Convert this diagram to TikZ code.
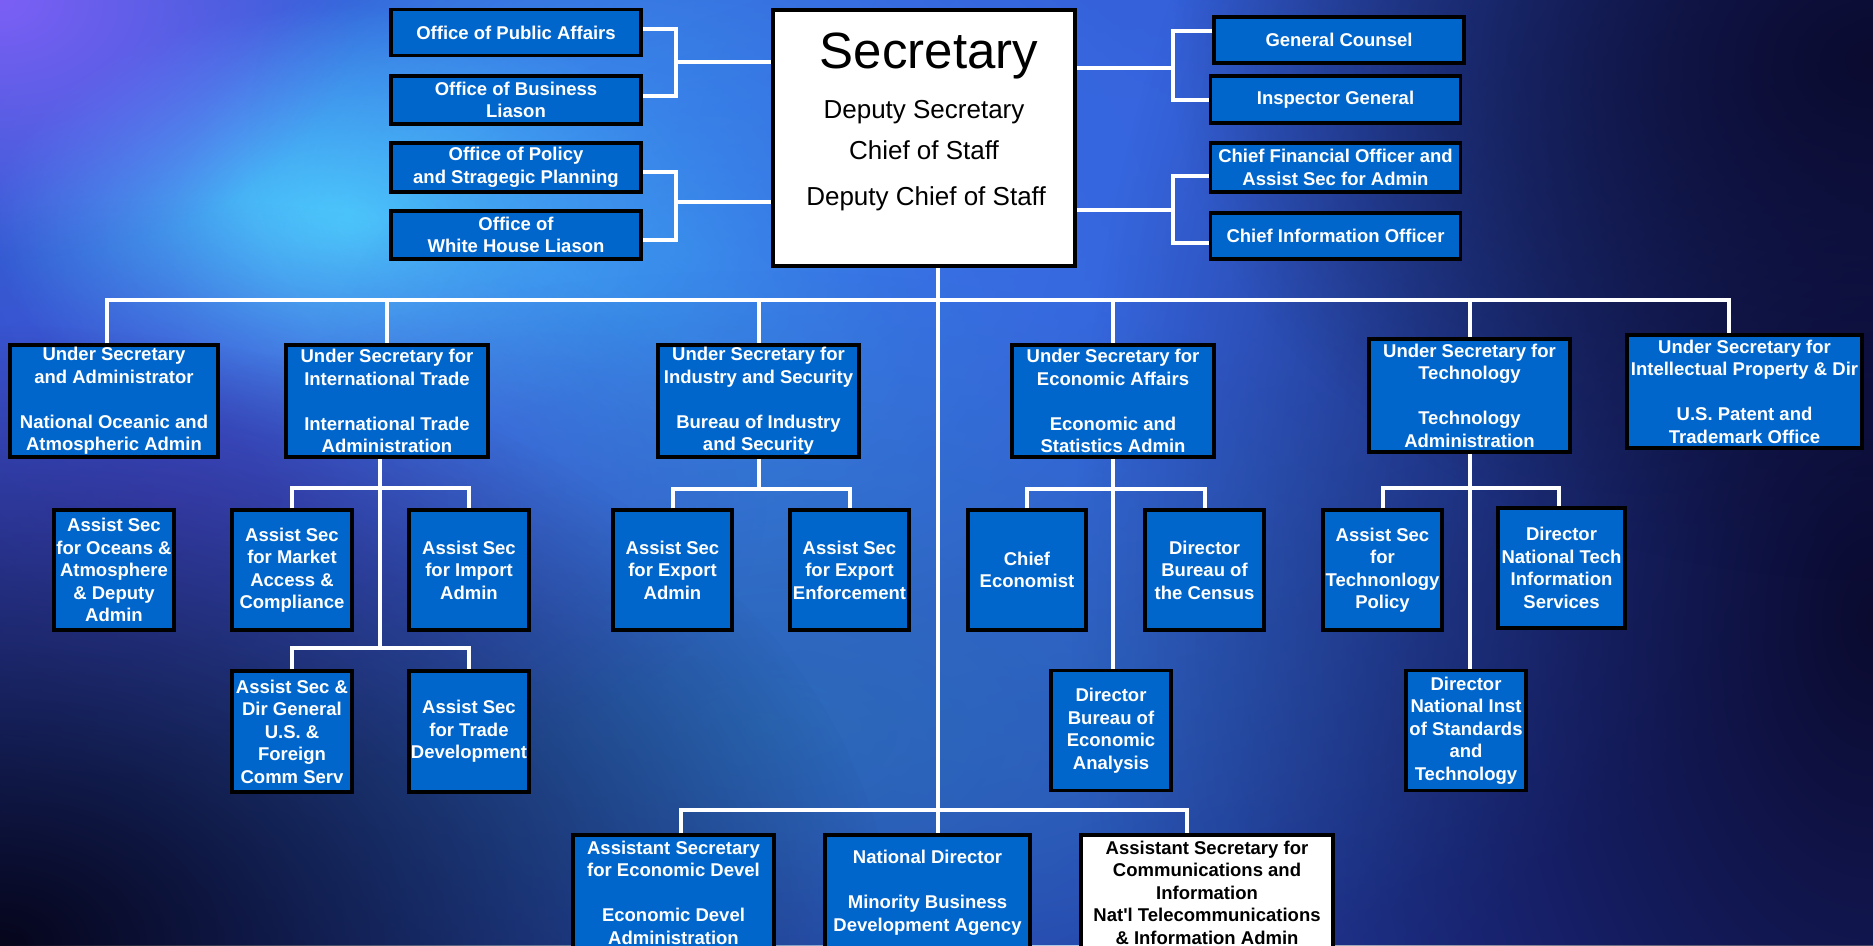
\documentclass[tikz,border=0pt]{standalone}
\usepackage{fontspec}
\setmainfont{Liberation Sans}
\usetikzlibrary{fadings}

\definecolor{orgblue}{HTML}{0066CC}
\definecolor{bgbase}{HTML}{2438A8}
\definecolor{glowblue}{HTML}{3D74EE}
\definecolor{glowcyan}{HTML}{3EC0FB}
\definecolor{hotcyan}{HTML}{4FD2FF}
\definecolor{glowviolet}{HTML}{7C60F6}
\definecolor{glowmid}{HTML}{3766E0}
\definecolor{glowteal}{HTML}{2B6FB5}
\definecolor{shadepurple}{HTML}{4A44D0}
\definecolor{nightnavy}{HTML}{06061C}
\definecolor{edgenavy}{HTML}{0B0B30}

% soft round glow, opaque in the middle
\tikzfading[name=glow, inner color=transparent!0, outer color=transparent!100]

\begin{document}
\begin{tikzpicture}[
    x=1pt, y=-1pt, % one unit per pixel, y runs downwards
    orgbox/.style={
        draw=black, % black frame round every box
        line width=3.5pt,
        fill=orgblue, % office blue
        text=white,
        align=center, % centre the lines of text
        inner sep=1pt,
        font=\bfseries\fontsize{18.5}{22.5}\selectfont
    },
    staffbox/.style={orgbox, minimum width=250pt, minimum height=47pt}, % staff offices beside the Secretary
    headbox/.style={orgbox, minimum width=202pt, minimum height=112pt}, % under secretaries
    subbox/.style={orgbox, minimum width=119pt, minimum height=120pt}, % assistant secretaries, directors
    lowbox/.style={orgbox, minimum height=115pt}, % bottom row
    secline/.style={anchor=base, text=black, font=\fontsize{26}{30}\selectfont},
    link/.style={draw=white, line width=4pt} % white connecting lines
]

\useasboundingbox (0,0) rectangle (1873,945);
\clip (0,0) rectangle (1873,945);

% backdrop: blue with soft glows, darker towards the corners
\fill[bgbase] (0,0) rectangle (1873,945);
\fill[glowblue, path fading=glow] (550,230) ellipse [x radius=1400pt, y radius=840pt];
\fill[glowcyan, path fading=glow] (690,250) ellipse [x radius=520pt, y radius=400pt];
\fill[hotcyan, path fading=glow] (350,225) ellipse [x radius=360pt, y radius=220pt];
\fill[glowviolet, path fading=glow] (0,0) ellipse [x radius=360pt, y radius=260pt];
\fill[glowmid, path fading=glow] (1150,130) ellipse [x radius=900pt, y radius=500pt];
\fill[glowmid, path fading=glow, fill opacity=.7] (1100,450) ellipse [x radius=800pt, y radius=500pt];
\fill[glowteal, path fading=glow, fill opacity=.8] (760,730) ellipse [x radius=840pt, y radius=460pt];
\fill[shadepurple, path fading=glow, fill opacity=.7] (170,500) ellipse [x radius=600pt, y radius=300pt];
\fill[nightnavy, path fading=glow] (0,945) ellipse [x radius=900pt, y radius=620pt];
\fill[edgenavy, path fading=glow] (1873,620) ellipse [x radius=800pt, y radius=1300pt];
\fill[edgenavy, path fading=glow] (1873,60) ellipse [x radius=700pt, y radius=520pt];

% Secretary
\node[draw=black, line width=3.5pt, fill=white, minimum width=302pt, minimum height=256pt] (sec) at (924,138) {};
\node[secline, font=\fontsize{51}{60}\selectfont] (sectitle) at (929,68) {Secretary};
\node[secline] (secdeputy) at (924,118) {Deputy Secretary};
\node[secline] (secchief) at (924,159) {Chief of Staff};
\node[secline] (secdcos) at (926,205) {Deputy Chief of Staff};

% staff offices
\node[staffbox, minimum height=46pt] (opa) at (516,32.5) {Office of Public Affairs};
\node[staffbox, minimum height=48pt] (obl) at (516,100) {Office of Business\\Liason};
\node[staffbox, minimum height=49pt] (opsp) at (516,167.5) {Office of Policy\\and Stragegic Planning};
\node[staffbox, minimum height=48pt] (owhl) at (516,235) {Office of\\White House Liason};
\node[staffbox, minimum height=46pt] (gc) at (1339,40) {General Counsel};
\node[staffbox] (ig) at (1335.5,99.5) {Inspector General};
\node[staffbox, minimum height=49pt] (cfo) at (1335.5,167.5) {Chief Financial Officer and\\Assist Sec for Admin};
\node[staffbox, minimum height=46pt] (cio) at (1335.5,236) {Chief Information Officer};

% under secretaries
\node[headbox, minimum width=208pt] (noaa) at (114,401) {Under Secretary\\and Administrator\\[22.5pt]National Oceanic and\\Atmospheric Admin};
\node[headbox] (ita) at (387,401) {Under Secretary for\\International Trade\\[22.5pt]International Trade\\Administration};
\node[headbox, minimum width=201pt] (bis) at (758.5,401) {Under Secretary for\\Industry and Security\\[22.5pt]Bureau of Industry\\and Security};
\node[headbox] (esa) at (1113,401) {Under Secretary for\\Economic Affairs\\[22.5pt]Economic and\\Statistics Admin};
\node[headbox, minimum width=201pt, minimum height=113pt] (tech) at (1469.5,395.5) {Under Secretary for\\Technology\\[22.5pt]Technology\\Administration};
\node[headbox, minimum width=235pt, minimum height=113pt] (ipo) at (1744.5,391.5) {Under Secretary for\\Intellectual Property \& Dir\\[22.5pt]U.S. Patent and\\Trademark Office};

% assistant secretaries and directors
\node[subbox, minimum width=120pt] (ocean) at (114,570) {Assist Sec\\for Oceans \&\\Atmosphere\\\& Deputy\\Admin};
\node[subbox, minimum width=120pt] (mkt) at (292,570) {Assist Sec\\for Market\\Access \&\\Compliance};
\node[subbox, minimum width=120pt] (imp) at (469,570) {Assist Sec\\for Import\\Admin};
\node[subbox] (expa) at (672.5,570) {Assist Sec\\for Export\\Admin};
\node[subbox] (expe) at (849.5,570) {Assist Sec\\for Export\\Enforcement};
\node[subbox, minimum width=118pt] (ceco) at (1027,570) {Chief\\Economist};
\node[subbox] (census) at (1204.5,570) {Director\\Bureau of\\the Census};
\node[subbox] (tpol) at (1382.5,570) {Assist Sec\\for\\Technonlogy\\Policy};
\node[subbox, minimum width=127pt] (ntis) at (1561.5,568) {Director\\National Tech\\Information\\Services};
\node[subbox, minimum width=120pt, minimum height=121pt] (dirgen) at (292,731.5) {Assist Sec \&\\Dir General\\U.S. \&\\Foreign\\Comm Serv};
\node[subbox, minimum width=120pt, minimum height=121pt] (tdev) at (469,731.5) {Assist Sec\\for Trade\\Development};
\node[subbox, minimum width=120pt] (bea) at (1111,730.5) {Director\\Bureau of\\Economic\\Analysis};
\node[subbox, minimum width=120pt] (nist) at (1466,730.5) {Director\\National Inst\\of Standards\\and\\Technology};

% bottom row
\node[lowbox, minimum width=201pt] (edd) at (673.5,892.5) {Assistant Secretary\\for Economic Devel\\[22.5pt]Economic Devel\\Administration};
\node[lowbox, minimum width=205pt] (mbda) at (927.5,892.5) {National Director\\[22.5pt]Minority Business\\Development Agency};
\node[lowbox, minimum width=252pt, fill=white, text=black] (ntia) at (1207,892.5) {Assistant Secretary for\\Communications and\\Information\\Nat\textquotesingle l Telecommunications\\\& Information Admin};

% junctions of the lines
\coordinate (jL1) at (676,62);
\coordinate (jL2) at (676,202);
\coordinate (jR1) at (1173,68);
\coordinate (jR2) at (1173,210);
\coordinate (mainbus) at (0,300);
\coordinate (itabus1) at (0,488);
\coordinate (itabus2) at (0,648);
\coordinate (unitbus) at (0,489);
\coordinate (lowbus) at (0,810);
\coordinate (trunk) at ([xshift=14pt]sec.south);
\coordinate (busL) at ([xshift=-7pt]noaa.north);
\coordinate (busR) at ([xshift=-16pt]ipo.north);
\coordinate (itatrunk) at ([xshift=-7pt]ita.south);
\coordinate (eddtop) at ([xshift=7pt]edd.north);
\coordinate (ntiatop) at ([xshift=-20pt]ntia.north);

% staff brackets
\draw[link] ([yshift=4pt]opa.east) -| (jL1) |- ([yshift=4pt]obl.east);
\draw[link] (jL1) -- (jL1 -| sec.west);
\draw[link] ([yshift=-4pt]opsp.east) -| (jL2) |- ([yshift=-5pt]owhl.east);
\draw[link] (jL2) -- (jL2 -| sec.west);
\draw[link] ([yshift=9pt]gc.west) -| (jR1) |- (ig.west);
\draw[link] (jR1) -- (jR1 -| sec.east);
\draw[link] ([yshift=-8pt]cfo.west) -| (jR2) |- ([yshift=-7pt]cio.west);
\draw[link] (jR2) -- (jR2 -| sec.east);

% main trunk and bus
\draw[link] (trunk) -- (trunk |- mbda.north);
\draw[link] (busL) |- (busR |- mainbus) -- (busR);
\foreach \unit in {ita,bis,esa,tech}
    \draw[link] (\unit.north |- mainbus) -- (\unit.north);

% branches below the under secretaries
\draw[link] (itatrunk) -- (itatrunk |- itabus2);
\draw[link] (mkt.north) |- (imp.north |- itabus1) -- (imp.north);
\draw[link] (dirgen.north) |- (tdev.north |- itabus2) -- (tdev.north);
\draw[link] (bis.south) -- (bis.south |- unitbus);
\draw[link] (expa.north) |- (expe.north |- unitbus) -- (expe.north);
\draw[link] (esa.south) -- (esa.south |- bea.north);
\draw[link] (ceco.north) |- (census.north |- unitbus) -- (census.north);
\draw[link] (tech.south) -- (tech.south |- nist.north);
\draw[link] (tpol.north) |- ([xshift=-3pt]ntis.north |- itabus1) -- ([xshift=-3pt]ntis.north);

% bottom bus
\draw[link] (eddtop) |- (ntiatop |- lowbus) -- (ntiatop);
\end{tikzpicture}
\end{document}
